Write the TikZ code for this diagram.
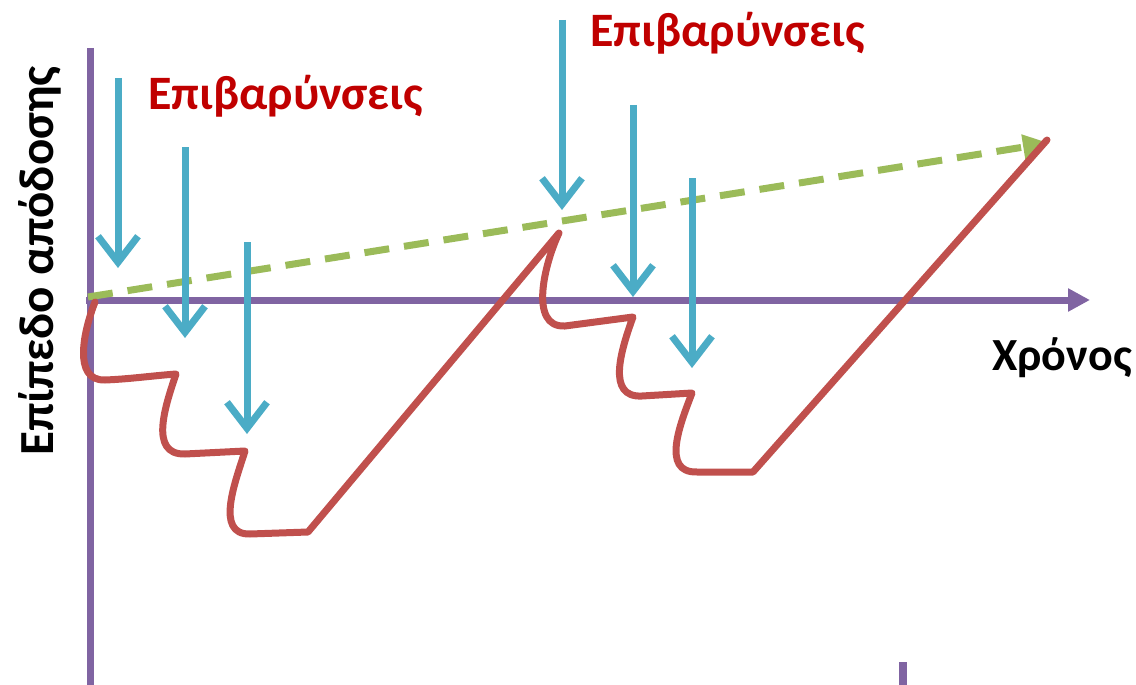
\documentclass[tikz,border=0pt]{standalone}
\usepackage{fontspec}
\setmainfont{Carlito}
\usetikzlibrary{arrows.meta}
\definecolor{axispurple}{HTML}{8064A2}
\definecolor{loadblue}{HTML}{4BACC6}
\definecolor{trendgreen}{HTML}{9BBB59}
\definecolor{perfred}{HTML}{C0504D}
\definecolor{labelred}{HTML}{C00000}
\tikzset{
  axis/.style={draw=axispurple, line width=7pt},
  load/.style={draw=loadblue, line width=7pt, -{Straight Barb[length=26pt,width=40pt]}},
  trend/.style={draw=trendgreen, line width=7pt, dash pattern=on 25pt off 15pt,
                -{Triangle[length=26pt,width=24pt]}},
  perf/.style={draw=perfred, line width=7pt, line join=round, line cap=round},
  loadlabel/.style={text=labelred, font=\bfseries\fontsize{48}{50}\selectfont, inner sep=0pt, anchor=base west},
  axislabel/.style={text=black, font=\bfseries\fontsize{46}{50}\selectfont, inner sep=0pt, anchor=base west},
}
\begin{document}
\begin{tikzpicture}[x=1pt,y=-1pt]
\useasboundingbox (0,0) rectangle (1136,685);

% axes
\coordinate (ytop) at (90,48);
\coordinate (ybot) at (90,690);
\coordinate (xorig) at (86,300);
\coordinate (xend) at (1090,300);
\draw[axis] (ytop) -- (ybot);
\draw[axis, -{Triangle[length=22pt,width=22pt]}] (xorig) -- (xend);
\coordinate (tickt) at (903,662);
\coordinate (tickb) at (903,690);
\draw[draw=axispurple, line width=8pt] (tickt) -- (tickb);

% trend of the performance level
\coordinate (trs) at (88,297);
\coordinate (tre) at (1049,143);
\draw[trend] (trs) -- (tre);

% performance curve
\coordinate (p0) at (95,302);
\coordinate (p1) at (176,374);
\coordinate (p2) at (245,451);
\coordinate (p3) at (308,532);
\coordinate (p4) at (559,233);
\coordinate (p5) at (633,317);
\coordinate (p6) at (692,393);
\coordinate (p7) at (753,472);
\coordinate (p8) at (1047,140);
\draw[perf] (p0) .. controls (84,330) and (72,381) .. (105,380)
  .. controls (130,379) and (150,376) .. (p1)
  .. controls (166,404) and (148,455) .. (185,454) -- (p2)
  .. controls (236,480) and (214,535) .. (250,534) -- (p3)
  -- (p4)
  .. controls (545,262) and (528,328) .. (565,326) -- (p5)
  .. controls (621,350) and (606,398) .. (642,396) -- (p6)
  .. controls (681,422) and (660,473) .. (697,472) -- (p7)
  -- (p8);

% loads
\coordinate (a1s) at (118,78);  \coordinate (a1e) at (118,268);
\coordinate (a2s) at (185,147); \coordinate (a2e) at (185,338);
\coordinate (a3s) at (247,242); \coordinate (a3e) at (247,434);
\coordinate (a4s) at (562,20);  \coordinate (a4e) at (562,210);
\coordinate (a5s) at (633,105); \coordinate (a5e) at (633,297);
\coordinate (a6s) at (692,178); \coordinate (a6e) at (692,368);
\draw[load] (a1s) -- (a1e);
\draw[load] (a2s) -- (a2e);
\draw[load] (a3s) -- (a3e);
\draw[load] (a4s) -- (a4e);
\draw[load] (a5s) -- (a5e);
\draw[load] (a6s) -- (a6e);

% labels
\node[loadlabel] (l1) at (148,110) {Επιβαρύνσεις};
\node[loadlabel] (l2) at (590,47) {Επιβαρύνσεις};
\node[axislabel] (xl) at (992,370) {Χρόνος};
\node[axislabel, font=\bfseries\fontsize{49}{52}\selectfont, rotate=90] (yl) at (53,456) {Επίπεδο απόδοσης};
\end{tikzpicture}
\end{document}
